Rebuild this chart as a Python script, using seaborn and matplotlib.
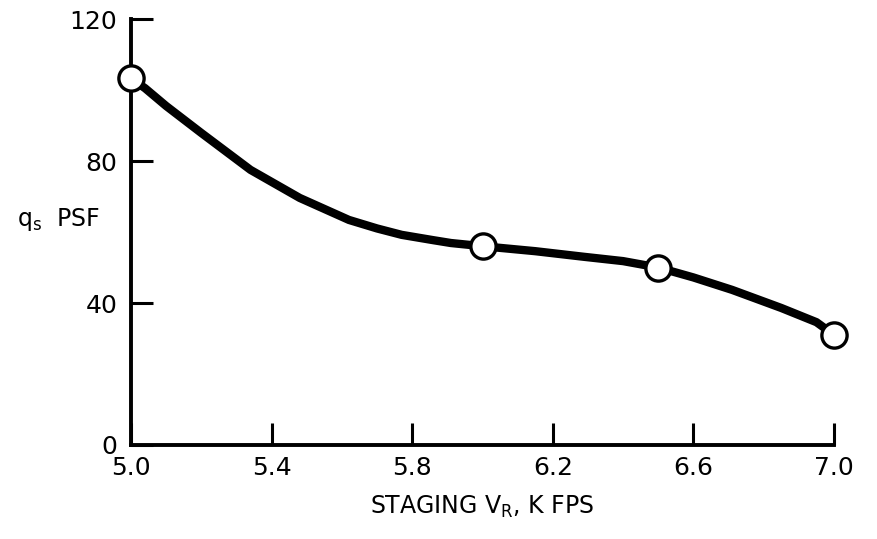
import matplotlib
matplotlib.use("Agg")
import matplotlib.pyplot as plt
import seaborn as sns
import pandas as pd

# Data
point_vr = [5.0, 6.0, 6.5, 7.0]
point_qs = [103.3, 56.0, 50.0, 31.0]

curve_vr = [5.0, 5.04, 5.1, 5.2, 5.34, 5.48, 5.62, 5.7, 5.77, 5.86, 5.91, 6.0,
            6.15, 6.29, 6.4, 6.5, 6.6, 6.71, 6.85, 6.95, 7.0]
curve_qs = [103.3, 100.5, 95.5, 87.9, 77.5, 69.6, 63.4, 61.0, 59.2, 57.7, 56.9, 56.0,
            54.6, 53.0, 51.8, 50.0, 47.2, 43.7, 38.6, 34.6, 31.0]

x_ticks = [5.0, 5.4, 5.8, 6.2, 6.6, 7.0]
x_tick_labels = ["5.0", "5.4", "5.8", "6.2", "6.6", "7.0"]
y_ticks = [0, 40, 80, 120]
y_tick_labels = ["0", "40", "80", "120"]

sns.set_theme(style="white")
plt.rcParams["font.family"] = ["DejaVu Sans"]
plt.rcParams["text.color"] = "black"
plt.rcParams["axes.labelcolor"] = "black"

fig = plt.figure(figsize=(8.77, 5.39), dpi=100)
ax = fig.add_axes([0.1494, 0.1744, 0.8016, 0.7903])

curve_df = pd.DataFrame({"vr": curve_vr, "qs": curve_qs})
pts_df = pd.DataFrame({"vr": point_vr, "qs": point_qs})

sns.lineplot(data=curve_df, x="vr", y="qs", sort=False, color="black",
             linewidth=6, ax=ax, zorder=3, clip_on=False)
sns.scatterplot(data=pts_df, x="vr", y="qs", s=330, marker="o",
                facecolor="white", edgecolor="black", linewidth=2.4,
                ax=ax, zorder=5, clip_on=False)

ax.set_xlim(5.0, 7.0)
ax.set_ylim(0, 120)
ax.set_xticks(x_ticks)
ax.set_xticklabels(x_tick_labels)
ax.set_yticks(y_ticks)
ax.set_yticklabels(y_tick_labels)

for side in ["top", "right"]:
    ax.spines[side].set_visible(False)
for side in ["left", "bottom"]:
    ax.spines[side].set_color("black")
    ax.spines[side].set_linewidth(2.8)

ax.tick_params(axis="both", which="major", direction="in", length=16, width=2.2,
               color="black", labelcolor="black", labelsize=18, pad=8,
               bottom=True, left=True, top=False, right=False)
ax.tick_params(axis="y", pad=10)

ax.set_xlabel(r"STAGING $\mathregular{V_R}$, K FPS", fontsize=17, labelpad=10,
              color="black")
ax.set_ylabel(r"$\mathregular{q_s}$  PSF", fontsize=17, rotation=0,
              ha="center", va="center", color="black")
ax.yaxis.set_label_coords(-0.103, 0.53)

ax.grid(False)
fig.savefig("out.png", dpi=100, facecolor="white")
